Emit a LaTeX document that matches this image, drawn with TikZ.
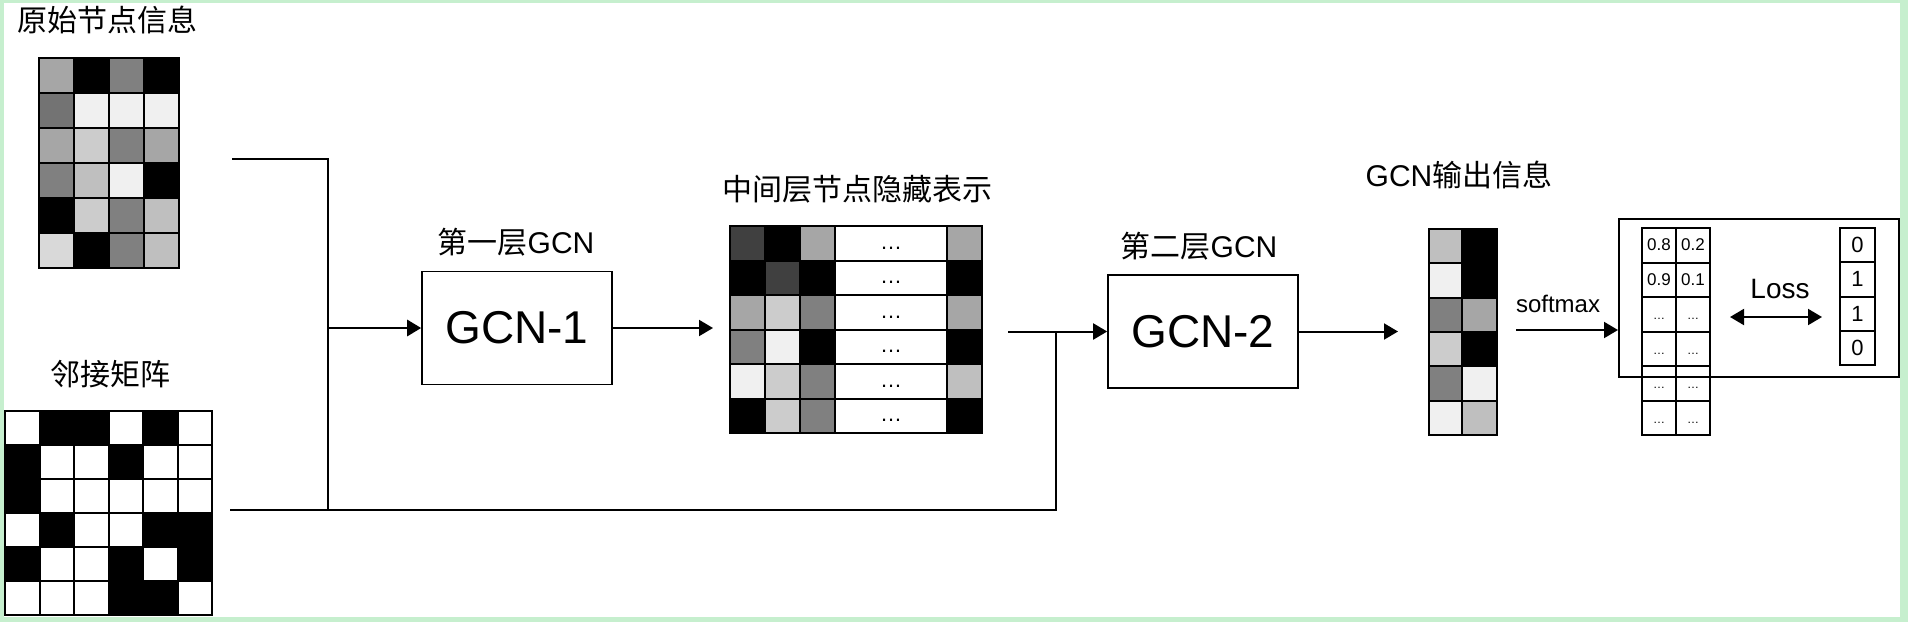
\documentclass[tikz,border=0pt]{standalone}
\usepackage{fontspec}
\setmainfont{Liberation Sans}
\newfontfamily\cjk{Noto Sans CJK SC}
\usetikzlibrary{arrows.meta,positioning}
\definecolor{frame}{RGB}{198,239,206}
\definecolor{g25}{RGB}{64,64,64}
\definecolor{g45}{RGB}{115,115,115}
\definecolor{g50}{RGB}{128,128,128}
\definecolor{g65}{RGB}{166,166,166}
\definecolor{g75}{RGB}{191,191,191}
\definecolor{g80}{RGB}{204,204,204}
\definecolor{g85}{RGB}{217,217,217}
\definecolor{g95}{RGB}{240,240,240}
\tikzset{>={Triangle[length=7pt,width=8pt]},
         cell/.style={draw=black,line width=1pt},
         conn/.style={line width=1pt},
         title/.style={font=\fontsize{15}{18}\selectfont},
         layer/.style={draw,line width=0.8pt,inner sep=0pt,
                       minimum width=95pt,minimum height=56.5pt,
                       font=\fontsize{23}{27}\selectfont},
         prob/.style={inner sep=0pt,font=\fontsize{8.5}{10}\selectfont},
         dots/.style={inner sep=0pt,font=\fontsize{6}{7}\selectfont}}

\begin{document}
\begin{tikzpicture}[x=0.5pt,y=-0.5pt]
  \fill[frame] (0,0) rectangle (1908,622);
  \fill[white] (4,3) rectangle (1900,617);
  \useasboundingbox (0,0) rectangle (1908,622);

  % titles
  \node[title] (tfeat) at (108,20) {\cjk 原始节点信息};
  \node[title] (tadj) at (110,374) {\cjk 邻接矩阵};
  \node[title] (tgcn1) at (516,242) {{\cjk 第一层}GCN};
  \node[title] (thid) at (857,189) {\cjk 中间层节点隐藏表示};
  \node[title] (tgcn2) at (1199,246) {{\cjk 第二层}GCN};
  \node[title] (tout) at (1459,175) {GCN{\cjk 输出信息}};

  % node features
  \foreach \r/\cs in {0/{g65,black,g50,black},1/{g45,g95,g95,g95},
                      2/{g65,g80,g50,g65},3/{g50,g75,g95,black},
                      4/{black,g80,g50,g75},5/{g85,black,g50,g75}}
    \foreach \c [count=\i from 0] in \cs
      \filldraw[cell,fill=\c] ({39+35*\i},{58+35*\r}) rectangle +(35,35);

  % adjacency
  \foreach \r/\cs in {0/{white,black,black,white,black,white},
                      1/{black,white,white,black,white,white},
                      2/{black,white,white,white,white,white},
                      3/{white,black,white,white,black,black},
                      4/{black,white,white,black,white,black},
                      5/{white,white,white,black,black,white}}
    \foreach \c [count=\i from 0] in \cs
      \filldraw[cell,fill=\c] ({5+34.5*\i},{411+34*\r}) rectangle +(34.5,34);

  % hidden representation
  \foreach \r/\a/\b/\c/\d in {0/g25/black/g65/g65,1/black/g25/black/black,
                              2/g65/g80/g50/g65,3/g50/g95/black/black,
                              4/g95/g80/g50/g75,5/black/g80/g50/black}{
    \filldraw[cell,fill=\a] (730,{226+34.5*\r}) rectangle +(35,34.5);
    \filldraw[cell,fill=\b] (765,{226+34.5*\r}) rectangle +(35,34.5);
    \filldraw[cell,fill=\c] (800,{226+34.5*\r}) rectangle +(35,34.5);
    \filldraw[cell,fill=white] (835,{226+34.5*\r}) rectangle +(112,34.5);
    \filldraw[cell,fill=\d] (947,{226+34.5*\r}) rectangle +(35,34.5);
    \node[font=\fontsize{11}{12}\selectfont,inner sep=0pt] (hd\r) at (891,{226+34.5*\r+22}) {…};
  }

  % GCN output
  \foreach \r/\a/\b in {0/g75/black,1/g95/black,2/g50/g65,
                        3/g80/black,4/g50/g95,5/g95/g75}{
    \filldraw[cell,fill=\a] (1429,{229+34.3*\r}) rectangle +(33,34.3);
    \filldraw[cell,fill=\b] (1462,{229+34.3*\r}) rectangle +(35,34.3);
  }

  % softmax probabilities
  \foreach \r in {0,...,5}{
    \draw[cell] (1642,{228+34.5*\r}) rectangle +(34,34.5);
    \draw[cell] (1676,{228+34.5*\r}) rectangle +(34,34.5);
  }
  \node[prob] (p00) at (1659,245) {0.8};
  \node[prob] (p01) at (1693,245) {0.2};
  \node[prob] (p10) at (1659,279.5) {0.9};
  \node[prob] (p11) at (1693,279.5) {0.1};
  \foreach \r in {2,...,5}{
    \node[dots] (pd\r a) at (1659,{228+34.5*\r+22}) {…};
    \node[dots] (pd\r b) at (1693,{228+34.5*\r+22}) {…};
  }

  % labels
  \foreach \v [count=\r from 0] in {0,1,1,0}{
    \draw[cell] (1840,{228+34.3*\r}) rectangle +(35,34.3);
    \node[font=\fontsize{11}{12}\selectfont,inner sep=0pt] (lab\r) at (1857.5,{228+34.3*\r+17}) {\v};
  }

  \node[draw,line width=1pt,inner sep=0pt,minimum width=140pt,minimum height=79pt] (cmp) at (1759,298) {};
  \node[font=\fontsize{14}{16}\selectfont] (loss) at (1780,289) {Loss};
  \node[font=\fontsize{12}{14}\selectfont] (smlabel) at (1558,304) {softmax};

  % layers
  \node[layer] (gcn1) at (517,328) {GCN-1};
  \node[layer] (gcn2) at (1203,331.5) {GCN-2};

  % connectors
  \coordinate (featout) at (232,159);
  \coordinate (adjout) at (230,510);
  \coordinate (j1) at (328,328);
  \coordinate (hidin) at (713,328);
  \coordinate (hidout) at (1008,331.5);
  \coordinate (j2) at (1056,331.5);
  \coordinate (outin) at (1398,331.5);
  \coordinate (smx) at (1516,330);
  \coordinate (lossl) at (1730,317);
  \coordinate (lossr) at (1822,317);

  \draw[conn] (featout) -| (j1 |- adjout);
  \draw[conn] (adjout) -| (j2);
  \draw[conn,->,line width=1.4pt] (j1) -- (gcn1.west);
  \draw[conn,->] (gcn1.east) -- (hidin);
  \draw[conn,->] (hidout) -- (gcn2.west);
  \draw[conn,->] (gcn2.east) -- (outin);
  \draw[conn,->] (smx) -- (smx -| cmp.west);
  \draw[conn,<->] (lossl) -- (lossr);
\end{tikzpicture}
\end{document}
